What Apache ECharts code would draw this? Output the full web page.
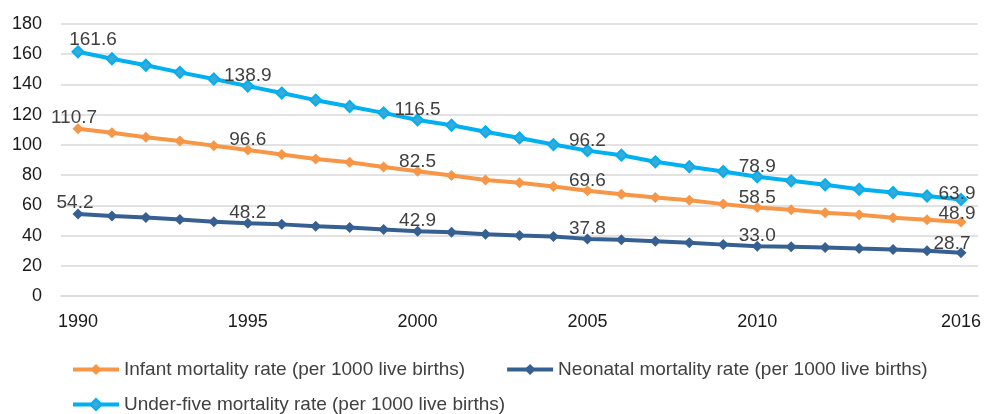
<!DOCTYPE html>
<html><head><meta charset="utf-8">
<script src="https://cdn.jsdelivr.net/npm/echarts@6/dist/echarts.min.js"></script>
<style>html,body{margin:0;padding:0;background:#fff}#c{width:984px;height:414px}</style>
</head><body><div id="c"></div>
<script>
const years = ['1990','1991','1992','1993','1994','1995','1996','1997','1998','1999','2000','2001','2002','2003','2004','2005','2006','2007','2008','2009','2010','2011','2012','2013','2014','2015','2016'];
const infant = [110.7,108.0,105.1,102.5,99.5,96.6,93.7,90.6,88.5,85.4,82.5,79.8,76.8,75.0,72.4,69.6,67.4,65.2,63.3,60.8,58.5,57.1,55.1,53.7,51.8,50.4,48.9];
const neonatal = [54.2,52.9,52.0,50.6,49.2,48.2,47.4,46.1,45.4,44.0,42.9,42.2,40.8,40.0,39.4,37.8,37.2,36.3,35.2,34.0,33.0,32.6,32.1,31.4,30.8,30.0,28.7];
const underFive = [161.6,157.0,152.7,148.0,143.6,138.9,134.3,129.6,125.4,121.2,116.5,113.0,108.7,104.6,100.2,96.2,93.2,88.8,85.6,82.4,78.9,76.2,73.6,70.6,68.5,66.2,63.9];
const yTicks = [0,20,40,60,80,100,120,140,160,180];
const xTickLabels = ['1990','1995','2000','2005','2010','2016'];
const names = ['Infant mortality rate (per 1000 live births)','Neonatal mortality rate (per 1000 live births)','Under-five mortality rate (per 1000 live births)'];

const FONT = 'Liberation Sans, Arial, sans-serif';
const labelIdx = xTickLabels.map(y=>years.indexOf(y));
function build(vals, offsets){
  return vals.map((v,i)=>{
    if(labelIdx.indexOf(i)<0) return v;
    const off = offsets[i] || [0,-10];
    return {value:v, label:{show:true, offset:off}};
  });
}
const chart = echarts.init(document.getElementById('c'));
function mkSeries(name, vals, color, offsets, itemStyle){
  return {
    name, type:'line', data:build(vals, offsets),
    symbol:'diamond', symbolSize:11, showAllSymbol:true,
    lineStyle:{color, width:4},
    itemStyle: itemStyle || {color},
    label:{show:false, position:'inside', color:'#404040', fontSize:19, fontFamily:FONT,
      formatter:p=>Number(p.value).toFixed(1)},
    emphasis:{disabled:true}, animation:false
  };
}
const legendCommon = {left:66, itemWidth:46, itemHeight:14, itemGap:40,
  lineStyle:{width:4},
  textStyle:{fontSize:19, color:'#404040', fontFamily:FONT}};
chart.setOption({
  animation:false,
  grid:{left:61, right:5, top:24, bottom:118, containLabel:false},
  legend:[
    Object.assign({data:[names[0],names[1]], top:355}, legendCommon),
    Object.assign({data:[names[2]], top:390}, legendCommon)
  ],
  xAxis:{type:'category', data:years, boundaryGap:true,
    axisLine:{show:true, lineStyle:{color:'#d9d9d9', width:1.5}},
    axisTick:{show:false},
    axisLabel:{interval:(i, v)=> xTickLabels.indexOf(v)>=0, margin:17, fontSize:18, color:'#1a1a1a', fontFamily:FONT}
  },
  yAxis:{type:'value', min:yTicks[0], max:yTicks[yTicks.length-1], interval:20,
    axisLine:{show:false}, axisTick:{show:false},
    splitLine:{lineStyle:{color:'#d9d9d9', width:1.5}},
    axisLabel:{margin:19, fontSize:18, color:'#1a1a1a', fontFamily:FONT}
  },
  series:[
    mkSeries(names[0], infant, '#F79646', {0:[-4,-11], 26:[-4,-8]}),
    mkSeries(names[1], neonatal, '#376092', {0:[-3,-11], 26:[-9,-9]}),
    mkSeries(names[2], underFive, '#00B0F0', {0:[15,-12], 26:[-4,-6]}, {color:'#3AA8D8', borderColor:'#00B0F0', borderWidth:2})
  ]
});
</script></body></html>
